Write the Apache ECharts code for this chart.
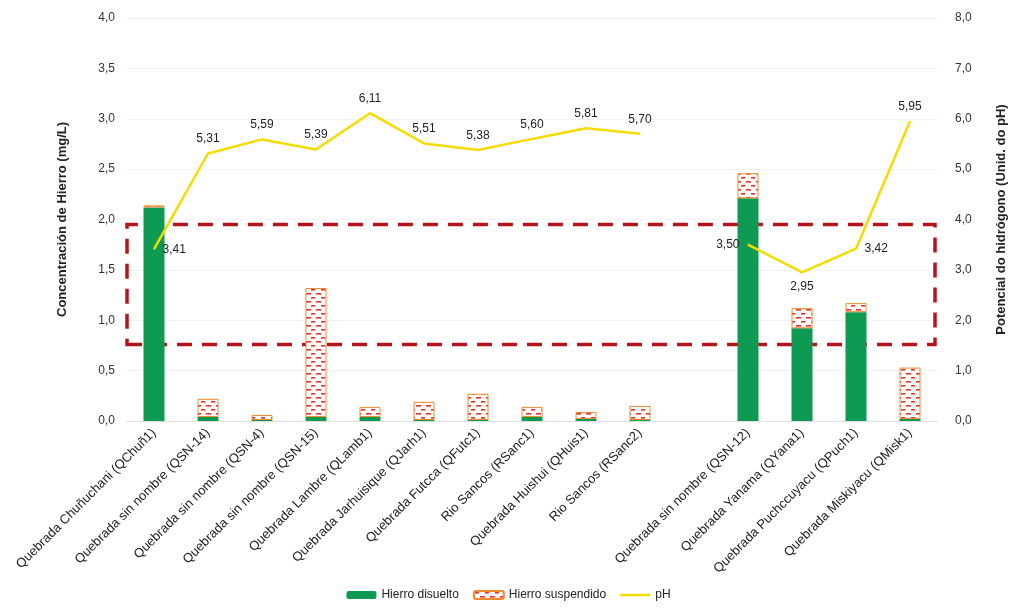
<!DOCTYPE html>
<html><head><meta charset="utf-8">
<script src="https://cdn.jsdelivr.net/npm/echarts@6/dist/echarts.min.js"></script>
<style>html,body{margin:0;padding:0;background:#fff}#c{width:1017px;height:610px}</style>
</head><body><div id="c"></div>
<script>
const categories = ['Quebrada Chuñuchani (QChuñ1)','Quebrada sin nombre (QSN-14)','Quebrada sin nombre (QSN-4)','Quebrada sin nombre (QSN-15)','Quebrada Lambre (QLamb1)','Quebrada Jarhuisique (QJarh1)','Quebrada Futcca (QFutc1)','Rio Sancos (RSanc1)','Quebrada Huishui (QHuis1)','Rio Sancos (RSanc2)','','Quebrada sin nombre (QSN-12)','Quebrada Yanama (QYana1)','Quebrada Puchccuyacu (QPuch1)','Quebrada Miskiyacu (QMisk1)'];
const dissolved = [2.12,0.04,0.01,0.04,0.04,0.01,0.01,0.04,0.02,0.01,null,2.21,0.92,1.08,0.02];
const suspended = [0.02,0.18,0.05,1.28,0.10,0.18,0.26,0.10,0.07,0.14,null,0.25,0.20,0.09,0.51];
const ph = [3.41,5.31,5.59,5.39,6.11,5.51,5.38,5.60,5.81,5.70,null,3.50,2.95,3.42,5.95];
const phLabelPos = ['right','top','top','top','top','top','top','top','top','top','top','left','bottom','right','top'];
const leftTicks = {min:0,max:4,interval:0.5};
const rightTicks = {min:0,max:8,interval:1};
const limitBand = [0.76,1.95];

const cv = document.createElement('canvas');
cv.width = 10; cv.height = 8;
const cx = cv.getContext('2d');
cx.fillStyle = '#fff'; cx.fillRect(0,0,10,8);
cx.fillStyle = '#e2332a';
cx.fillRect(1,1,4,1.6); cx.fillRect(6,5,4,1.6); cx.fillRect(0,5,1,1.6);

const fmt = v => v.toFixed(1).replace('.', ',');
const chart = echarts.init(document.getElementById('c'));
chart.setOption({
  animation:false,
  textStyle:{fontFamily:'Liberation Sans, Arial, sans-serif'},
  grid:{left:127,right:80,top:18,bottom:189},
  legend:{bottom:4,left:'center',itemWidth:30,itemHeight:8,itemGap:14,
    textStyle:{fontSize:12,color:'#222'},
    data:['Hierro disuelto','Hierro suspendido',{name:'pH',icon:'path://M0,0H30V2.5H0Z'}]},
  xAxis:{type:'category',data:categories,
    axisLine:{show:true,lineStyle:{color:'#ddd'}},axisTick:{show:false},
    axisLabel:{interval:0,rotate:45,fontSize:13,color:'#222',margin:10}},
  yAxis:[
    {type:'value',min:leftTicks.min,max:leftTicks.max,interval:leftTicks.interval,
     name:'Concentración de Hierro (mg/L)',nameLocation:'middle',nameGap:58,
     nameTextStyle:{fontSize:13,fontWeight:'bold',color:'#222'},
     axisLabel:{formatter:fmt,fontSize:12,color:'#333',margin:12},
     axisLine:{show:false},axisTick:{show:false},
     splitLine:{lineStyle:{color:'#f2f2f2'}}},
    {type:'value',min:rightTicks.min,max:rightTicks.max,interval:rightTicks.interval,
     name:'Potencial do hidrógono (Unid. do pH)',nameLocation:'middle',nameGap:58,nameRotate:90,
     nameTextStyle:{fontSize:13,fontWeight:'bold',color:'#222'},
     axisLabel:{formatter:fmt,fontSize:12,color:'#333',margin:18},
     axisLine:{show:false},axisTick:{show:false},splitLine:{show:false}}
  ],
  series:[
    {name:'Hierro disuelto',type:'bar',stack:'fe',barWidth:21,data:dissolved,
     itemStyle:{color:'#0f9a53'},
     markArea:{silent:true,itemStyle:{color:'rgba(0,0,0,0)',borderColor:'#b4141d',borderWidth:3.5,borderType:[15,10]},
       data:[[{yAxis:limitBand[0],x:127},{yAxis:limitBand[1],x:935}]]}},
    {name:'Hierro suspendido',type:'bar',stack:'fe',barWidth:21,data:suspended,
     itemStyle:{color:{image:cv,repeat:'repeat'},borderColor:'#f08a2c',borderWidth:1}},
    {name:'pH',type:'line',yAxisIndex:1,data:ph.map((v,i)=>({value:v,label:{position:phLabelPos[i]}})),
     symbol:'circle',symbolSize:1,showSymbol:true,connectNulls:false,
     lineStyle:{color:'#f5dc00',width:2.5},itemStyle:{color:'#f5dc00'},
     label:{show:true,fontSize:12,color:'#222',distance:8,formatter:p=>p.value==null?'':p.value.toFixed(2).replace('.',',')}}
  ]
});
</script></body></html>
